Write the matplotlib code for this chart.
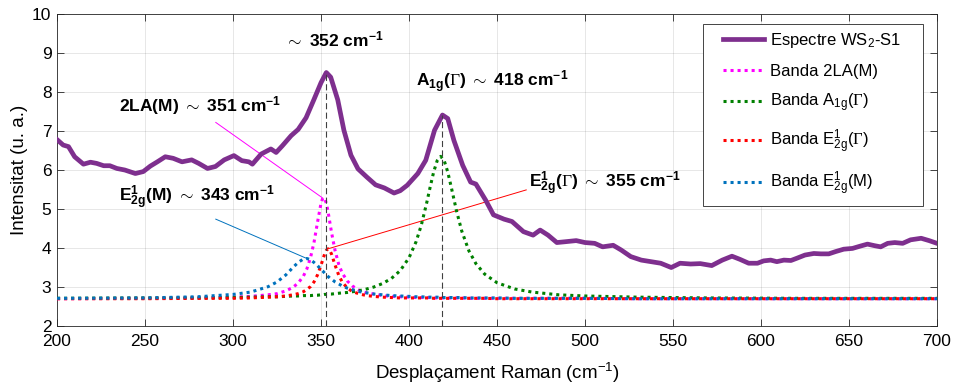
import numpy as np
import matplotlib
matplotlib.use('Agg')
import matplotlib.pyplot as plt
import matplotlib.patches as mpatches

plt.rcParams['font.family'] = ['Liberation Sans', 'DejaVu Sans']
plt.rcParams['mathtext.fontset'] = 'custom'
plt.rcParams['mathtext.rm'] = 'Liberation Serif'
plt.rcParams['mathtext.sf'] = 'Liberation Sans'
plt.rcParams['mathtext.bf'] = 'Liberation Sans:bold'
plt.rcParams['mathtext.it'] = 'Liberation Sans:italic'

spec_x = [200, 203.5, 206.5, 210, 215, 219, 222.5, 226.5, 230, 234, 238.5, 244.5, 249, 253, 257,
          261.5, 266, 271, 276.5, 280.5, 285.5, 290, 295, 300.5, 305, 309, 311, 316, 321.5, 324.5,
          328, 333, 337, 341.5, 346, 350, 353, 355.5, 359.5, 363, 367, 371, 376, 381, 386,
          391.5, 395, 399, 405, 409.5, 414.5, 419, 422, 425.5, 430.5, 435, 438, 443.5, 448, 454,
          458.5, 465, 470.5, 474.5, 479, 484, 488.5, 495, 500, 505.5, 510, 516, 520.5, 526, 532,
          537.5, 543, 549, 554, 560, 565.5, 572, 578, 583.5, 588, 593, 598, 601.5, 605.5, 609,
          613, 617, 620.5, 625, 630, 634, 638.5, 642.5, 647, 652, 656.5, 660.5, 664.5, 668, 672,
          676, 680.5, 685, 691, 695.5, 700]
spec_y = [6.78, 6.64, 6.60, 6.34, 6.15, 6.20, 6.17, 6.11, 6.11, 6.04, 6.00, 5.91, 5.96, 6.10, 6.21,
          6.34, 6.30, 6.21, 6.26, 6.17, 6.04, 6.09, 6.26, 6.37, 6.24, 6.21, 6.15, 6.41, 6.54, 6.45,
          6.62, 6.88, 7.04, 7.34, 7.81, 8.24, 8.50, 8.38, 7.80, 7.02, 6.38, 6.03, 5.82, 5.62, 5.54,
          5.41, 5.47, 5.61, 5.91, 6.25, 7.02, 7.41, 7.32, 6.76, 6.12, 5.69, 5.64, 5.23, 4.85, 4.74,
          4.68, 4.42, 4.33, 4.46, 4.33, 4.14, 4.16, 4.19, 4.14, 4.12, 4.03, 4.07, 3.95, 3.78, 3.69,
          3.65, 3.61, 3.50, 3.61, 3.59, 3.60, 3.55, 3.69, 3.79, 3.71, 3.61, 3.61, 3.67, 3.69, 3.65,
          3.69, 3.68, 3.74, 3.82, 3.86, 3.85, 3.85, 3.91, 3.97, 3.99, 4.05, 4.10, 4.06, 4.03, 4.12,
          4.14, 4.12, 4.21, 4.25, 4.19, 4.12]

# fitted bands, sampled on a common grid
band_x = [200, 250, 280, 300, 310, 320, 325, 330, 334, 337,
          340, 342, 344, 346, 348, 350, 351, 352, 353, 354,
          355, 356, 358, 360, 362, 365, 368, 372, 376, 380,
          385, 390, 395, 400, 404, 407, 410, 412, 414, 416,
          418, 420, 422, 424, 427, 430, 434, 438, 443, 450,
          460, 470, 485, 500, 530, 570, 620, 700]
band_2la = [2.70, 2.71, 2.72, 2.74, 2.76, 2.80, 2.83, 2.90, 2.99, 3.10,
            3.28, 3.47, 3.75, 4.14, 4.66, 5.15, 5.28, 5.28, 5.15, 4.93,
            4.66, 4.39, 3.93, 3.59, 3.36, 3.15, 3.02, 2.91, 2.85, 2.82,
            2.78, 2.76, 2.75, 2.74, 2.73, 2.73, 2.73, 2.73, 2.72, 2.72,
            2.72, 2.72, 2.72, 2.72, 2.72, 2.72, 2.71, 2.71, 2.71, 2.71,
            2.71, 2.71, 2.71, 2.71, 2.70, 2.70, 2.70, 2.70]
band_a1g = [2.71, 2.72, 2.72, 2.73, 2.74, 2.75, 2.75, 2.76, 2.77, 2.77,
            2.78, 2.78, 2.78, 2.79, 2.79, 2.80, 2.80, 2.81, 2.81, 2.81,
            2.82, 2.82, 2.83, 2.84, 2.85, 2.86, 2.88, 2.91, 2.95, 3.00,
            3.09, 3.22, 3.42, 3.75, 4.16, 4.59, 5.15, 5.56, 5.95, 6.24,
            6.35, 6.24, 5.95, 5.56, 4.95, 4.43, 3.93, 3.60, 3.33, 3.11,
            2.95, 2.87, 2.80, 2.77, 2.74, 2.72, 2.71, 2.71]
band_e2g_g = [2.70, 2.70, 2.71, 2.71, 2.72, 2.74, 2.75, 2.77, 2.80, 2.83,
              2.88, 2.94, 3.01, 3.13, 3.31, 3.56, 3.70, 3.84, 3.94, 3.98,
              3.94, 3.84, 3.56, 3.31, 3.13, 2.97, 2.88, 2.82, 2.78, 2.76,
              2.74, 2.73, 2.72, 2.72, 2.72, 2.72, 2.72, 2.72, 2.71, 2.71,
              2.71, 2.71, 2.71, 2.71, 2.71, 2.71, 2.71, 2.71, 2.71, 2.70,
              2.70, 2.70, 2.70, 2.70, 2.70, 2.70, 2.70, 2.70]
band_e2g_m = [2.71, 2.72, 2.75, 2.81, 2.87, 3.01, 3.13, 3.31, 3.50, 3.63,
              3.72, 3.73, 3.70, 3.63, 3.55, 3.45, 3.41, 3.36, 3.31, 3.27,
              3.23, 3.20, 3.13, 3.08, 3.03, 2.97, 2.93, 2.88, 2.85, 2.82,
              2.80, 2.78, 2.77, 2.76, 2.75, 2.75, 2.74, 2.74, 2.74, 2.74,
              2.73, 2.73, 2.73, 2.73, 2.73, 2.73, 2.72, 2.72, 2.72, 2.72,
              2.71, 2.71, 2.71, 2.71, 2.70, 2.70, 2.70, 2.70]

labels = ['Espectre WS$_\\mathsf{2}$-S1',
          'Banda 2LA(M)',
          'Banda $\\mathsf{A}_\\mathsf{1g}$($\\Gamma$)',
          'Banda $\\mathsf{E}_\\mathsf{2g}^\\mathsf{1}$($\\Gamma$)',
          'Banda $\\mathsf{E}_\\mathsf{2g}^\\mathsf{1}$(M)']

purple = '#7E2F8E'
c_2la, c_a1g, c_e2g_g, c_e2g_m = '#FF00FF', '#008000', '#FF0000', '#0072BD'

fig = plt.figure(figsize=(9.57, 3.84), dpi=100)
ax = fig.add_axes([0.0596, 0.151, 0.9195, 0.8125])

dots = (0, (1, 1.3))
ax.plot(spec_x, spec_y, color=purple, lw=3.4, label=labels[0], zorder=5, solid_joinstyle='round')
ax.plot(band_x, band_2la, color=c_2la, lw=2.2, ls=dots, label=labels[1], zorder=4)
ax.plot(band_x, band_a1g, color=c_a1g, lw=2.2, ls=dots, label=labels[2], zorder=4)
ax.plot(band_x, band_e2g_g, color=c_e2g_g, lw=2.2, ls=dots, label=labels[3], zorder=4)
ax.plot(band_x, band_e2g_m, color=c_e2g_m, lw=2.2, ls=dots, label=labels[4], zorder=4)

# dashed markers under the two main peaks of the spectrum
sx = np.array(spec_x)
sy = np.array(spec_y)
for lo, hi in [(340, 380), (400, 440)]:
    m = (sx > lo) & (sx < hi)
    i = np.argmax(np.where(m, sy, -np.inf))
    ax.plot([sx[i], sx[i]], [2, sy[i]], color='#404040', lw=0.8, ls=(0, (5.5, 3)), zorder=6)

# annotation leader lines from label to band maximum
def peak(y):
    i = int(np.argmax(y))
    return band_x[i], y[i]

for y, col, start in [(band_2la, c_2la, (290.2, 7.22)),
                      (band_e2g_m, c_e2g_m, (290.2, 4.74)),
                      (band_e2g_g, c_e2g_g, (466.6, 5.49))]:
    px, py = peak(y)
    ax.plot([start[0], px], [start[1], py], color=col, lw=0.7, zorder=3)

fs = 12.5
ax.text(357.7, 9.16, '$\\sim$ 352 cm$^{\\mathbf{-1}}$', fontsize=fs, fontweight='bold', ha='center', va='baseline')
ax.text(281.1, 7.50, '2LA(M) $\\sim$ 351 cm$^{\\mathbf{-1}}$', fontsize=fs, fontweight='bold', ha='center', va='baseline')
ax.text(279.3, 5.19, '$\\mathbf{E}_\\mathbf{2g}^\\mathbf{1}$(M) $\\sim$ 343 cm$^{\\mathbf{-1}}$', fontsize=fs,
        fontweight='bold', ha='center', va='baseline')
ax.text(447, 8.14, '$\\mathbf{A}_\\mathbf{1g}$($\\Gamma$) $\\sim$ 418 cm$^{\\mathbf{-1}}$', fontsize=fs,
        fontweight='bold', ha='center', va='baseline')
ax.text(511, 5.53, '$\\mathbf{E}_\\mathbf{2g}^\\mathbf{1}$($\\Gamma$) $\\sim$ 355 cm$^{\\mathbf{-1}}$', fontsize=fs,
        fontweight='bold', ha='center', va='baseline')

ax.set_xlim(200, 700)
ax.set_ylim(2, 10)
ax.set_xticks(np.arange(200, 701, 50))
ax.set_yticks(np.arange(2, 11, 1))
ax.grid(True, color='#262626', alpha=0.13, lw=0.6)
ax.set_axisbelow(True)
ax.tick_params(direction='in', length=5, width=0.6, labelsize=12.5, color='#262626',
               top=True, right=True)
ax.tick_params(axis='x', pad=6)
ax.tick_params(axis='y', pad=4)
for s in ax.spines.values():
    s.set_color('#262626')
    s.set_linewidth(0.6)

ax.set_xlabel('Desplaçament Raman (cm$^{\\mathsf{-1}}$)', fontsize=13.5, labelpad=8)
ax.set_ylabel('Intensitat (u. a.)', fontsize=13.5, labelpad=3)

# legend frame drawn separately so that its padding matches the original
frame = mpatches.Rectangle((0.734, 0.385), 0.250, 0.583, transform=ax.transAxes,
                           facecolor='white', edgecolor='#262626', lw=0.6, zorder=9)
ax.add_patch(frame)
leg = ax.legend(loc='upper left', bbox_to_anchor=(0.757, 0.945), borderaxespad=0, borderpad=0,
                fontsize=12, handlelength=2.45, handletextpad=0.35, labelspacing=0.8,
                frameon=False)
leg.set_zorder(10)

fig.savefig('out.png', dpi=100)
